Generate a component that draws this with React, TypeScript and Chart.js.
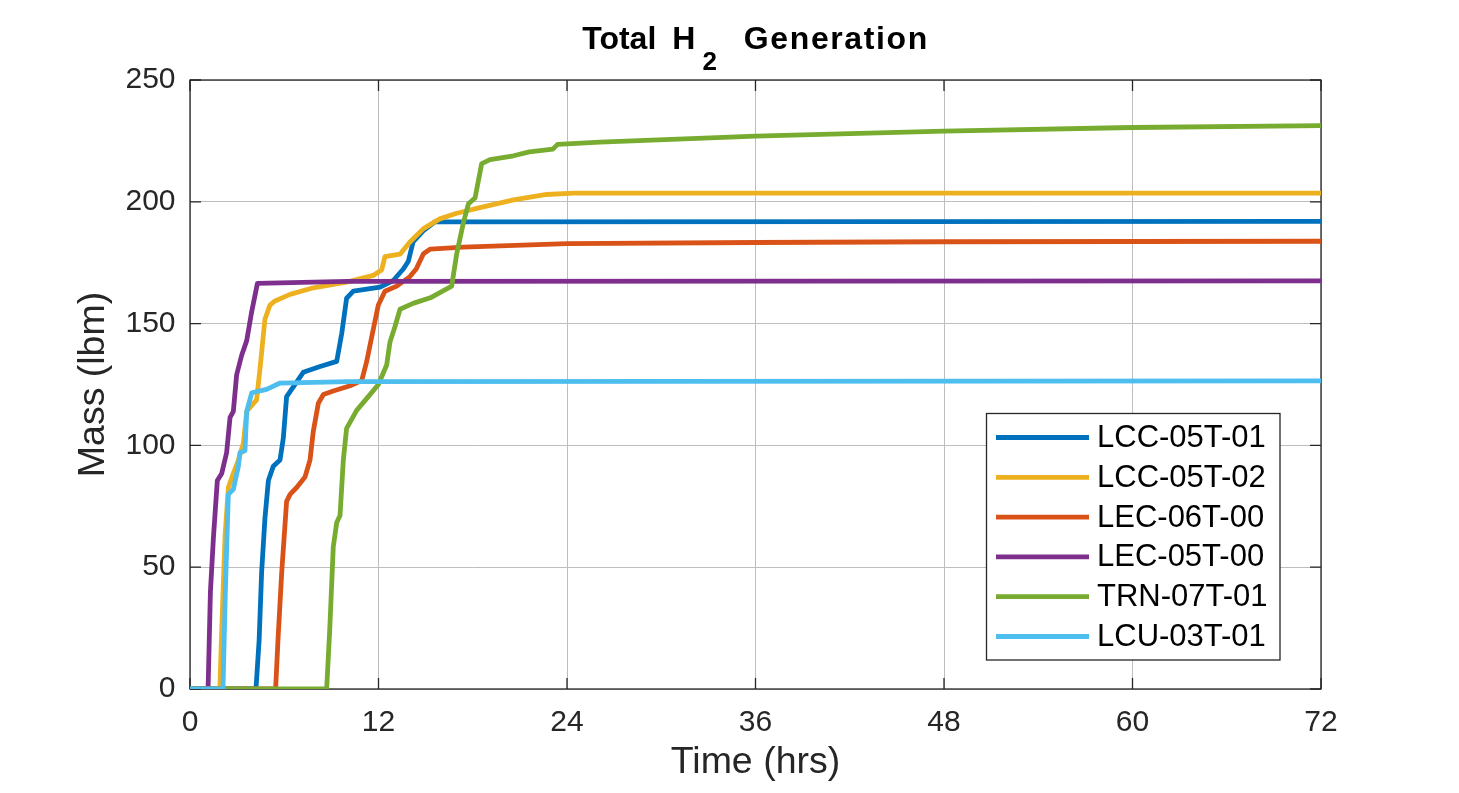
import React, { useEffect, useRef } from "react";
import { Chart, registerables } from "chart.js";

Chart.register(...registerables);

// ---------- Data ----------
const seriesLabels = ["LCC-05T-01", "LCC-05T-02", "LEC-06T-00", "LEC-05T-00", "TRN-07T-01", "LCU-03T-01"];
const seriesColors = ["#0072BD", "#EDB120", "#D95319", "#7E2F8E", "#77AC30", "#4DBEEE"];

const xTickValues = [0, 12, 24, 36, 48, 60, 72];
const yTickValues = [0, 50, 100, 150, 200, 250];

const lcc05t01Time = [0, 4.2, 4.4, 4.56, 4.77, 4.99, 5.3, 5.73, 5.94, 6.15, 6.47, 7.21, 8.28, 9.34, 9.66, 9.97, 10.4, 12.1, 12.94, 13.58, 13.9, 14.2, 14.86, 15.6, 72];
const lcc05t01Mass = [0, 0, 20, 48, 70, 85.6, 91.4, 94, 103, 120, 123, 130, 132.4, 134.5, 146, 160.4, 163.3, 165, 167.7, 172.4, 175.6, 183.5, 188.2, 191.8, 192];

const lcc05t02Time = [0, 1.9, 2.05, 2.23, 2.44, 2.76, 3.08, 3.4, 3.61, 4.24, 4.46, 4.77, 5.09, 5.41, 6.37, 7.85, 9.97, 11.67, 12.2, 12.41, 13.37, 14.0, 14.86, 15.9, 16.98, 18.46, 20.6, 22.7, 24.4, 72];
const lcc05t02Mass = [0, 0, 30, 62.6, 82.7, 88.5, 94, 101, 114, 118.7, 131.7, 151.8, 157.6, 159.3, 162, 164.7, 167, 169.8, 172, 177.5, 178.5, 183.5, 189, 193, 195.3, 197.6, 200.8, 203, 203.6, 203.6];

const lec06t00Time = [0, 5.45, 5.6, 5.84, 6.15, 6.37, 6.79, 7.32, 7.64, 7.85, 8.17, 8.49, 9.12, 10.19, 10.93, 11.25, 11.57, 11.99, 12.41, 13.16, 14.0, 14.4, 14.86, 15.3, 17.4, 24, 36, 48, 72];
const lec06t00Mass = [0, 0, 20, 48, 77, 79.9, 82.7, 87, 94, 105.8, 117.3, 120.9, 122.3, 124.5, 126.6, 134.5, 144.6, 157.6, 163.3, 165.4, 169.3, 172.4, 178.7, 180.6, 181.4, 182.8, 183.3, 183.6, 183.8];

const lec05t00Time = [0, 1.15, 1.3, 1.49, 1.74, 2.02, 2.33, 2.55, 2.76, 2.97, 3.29, 3.61, 3.93, 4.29, 10, 72];
const lec05t00Mass = [0, 0, 40, 62, 85.6, 88.5, 97, 111.5, 114, 129, 137, 143, 155, 166.5, 167.3, 167.5];

const trn07t01Time = [0, 8.7, 8.9, 9.12, 9.34, 9.55, 9.76, 9.97, 10.61, 11.35, 11.99, 12.52, 12.73, 13.05, 13.37, 14.2, 15.3, 16.66, 16.98, 17.4, 17.73, 18.15, 18.57, 19.1, 20.6, 21.6, 23.1, 23.4, 26.1, 36, 48, 60, 72];
const trn07t01Mass = [0, 0, 25, 58.3, 68.3, 71.2, 94, 107, 114.4, 120, 125, 133, 142.4, 148.8, 155.9, 158.3, 160.6, 165.4, 178.7, 191.3, 199.2, 201.6, 215.7, 217.3, 218.9, 220.5, 221.6, 223.6, 224.5, 227, 229, 230.5, 231.3];

const lcu03t01Time = [0, 2.1, 2.25, 2.44, 2.76, 3.08, 3.18, 3.5, 3.61, 3.93, 4.88, 5.73, 10, 72];
const lcu03t01Mass = [0, 0, 40, 79.9, 82, 91.4, 97, 97.8, 114, 121.6, 123, 125.6, 126.2, 126.5];

const seriesTimes = [lcc05t01Time, lcc05t02Time, lec06t00Time, lec05t00Time, trn07t01Time, lcu03t01Time];
const seriesMasses = [lcc05t01Mass, lcc05t02Mass, lec06t00Mass, lec05t00Mass, trn07t01Mass, lcu03t01Mass];

const titleFirst = "Total";
const titleH = "H";
const titleSub = "2";
const titleEnd = "Generation";
const xAxisTitle = "Time (hrs)";
const yAxisTitle = "Mass (lbm)";

// ---------- Styling ----------
const FONT = '"Liberation Sans", Arial, Helvetica, sans-serif';
const AXIS_COLOR = "#262626";
const GRID_COLOR = "#bdbdbd";
const W = 1459;
const H = 793;

const axesBoxPlugin = {
  id: "matlabAxesBox",
  beforeDatasetsDraw(chart: any) {
    const { ctx, chartArea, scales } = chart;
    const { left, right, top, bottom } = chartArea;
    const tickLen = 11;
    ctx.save();
    ctx.strokeStyle = AXIS_COLOR;
    ctx.lineWidth = 1.3;
    ctx.strokeRect(left, top, right - left, bottom - top);
    ctx.beginPath();
    for (const v of xTickValues) {
      const px = scales.x.getPixelForValue(v);
      ctx.moveTo(px, bottom);
      ctx.lineTo(px, bottom - tickLen);
      ctx.moveTo(px, top);
      ctx.lineTo(px, top + tickLen);
    }
    for (const v of yTickValues) {
      const py = scales.y.getPixelForValue(v);
      ctx.moveTo(left, py);
      ctx.lineTo(left + tickLen, py);
      ctx.moveTo(right, py);
      ctx.lineTo(right - tickLen, py);
    }
    ctx.stroke();
    ctx.restore();
  },
};

const titlePlugin = {
  id: "subscriptTitle",
  afterDraw(chart: any) {
    const { ctx, chartArea } = chart;
    ctx.save();
    ctx.fillStyle = "#000000";
    ctx.textBaseline = "alphabetic";
    ctx.textAlign = "left";
    const mainFont = `bold 32px ${FONT}`;
    const subFont = `bold 26px ${FONT}`;
    const genSpacing = 1.6;
    ctx.font = mainFont;
    const wTotal = ctx.measureText(titleFirst).width;
    const wH = ctx.measureText(titleH).width;
    const wGen = ctx.measureText(titleEnd).width + genSpacing * titleEnd.length;
    ctx.font = subFont;
    const wSub = ctx.measureText(titleSub).width;
    const gap1 = 16;
    const gap2 = 7;
    const gap3 = 27;
    const total = wTotal + gap1 + wH + gap2 + wSub + gap3 + wGen;
    const cx = (chartArea.left + chartArea.right) / 2;
    let x = cx - total / 2;
    const baseY = 48.5;
    ctx.font = mainFont;
    ctx.fillText(titleFirst, x, baseY);
    x += wTotal + gap1;
    ctx.fillText(titleH, x, baseY);
    x += wH + gap2;
    ctx.font = subFont;
    ctx.fillText(titleSub, x, baseY + 21);
    x += wSub + gap3;
    ctx.font = mainFont;
    try {
      (ctx as any).letterSpacing = `${genSpacing}px`;
    } catch (e) {}
    ctx.fillText(titleEnd, x, baseY);
    ctx.restore();
  },
};

const legendPlugin = {
  id: "insideLegend",
  afterDraw(chart: any) {
    const { ctx, chartArea } = chart;
    const boxW = 293.5;
    const boxH = 246.5;
    const boxRight = chartArea.right - 41;
    const boxBottom = chartArea.bottom - 29;
    const bx = boxRight - boxW;
    const by = boxBottom - boxH;
    ctx.save();
    ctx.fillStyle = "#ffffff";
    ctx.fillRect(bx, by, boxW, boxH);
    ctx.strokeStyle = AXIS_COLOR;
    ctx.lineWidth = 1.3;
    ctx.strokeRect(bx, by, boxW, boxH);
    const rowH = 39.8;
    const firstY = by + 24;
    ctx.font = `31px ${FONT}`;
    ctx.textBaseline = "middle";
    ctx.textAlign = "left";
    chart.data.datasets.forEach((ds: any, i: number) => {
      const y = firstY + i * rowH;
      ctx.strokeStyle = ds.borderColor;
      ctx.lineWidth = 4.8;
      ctx.beginPath();
      ctx.moveTo(bx + 9.5, y);
      ctx.lineTo(bx + 102.5, y);
      ctx.stroke();
      ctx.fillStyle = "#000000";
      ctx.fillText(ds.label, bx + 110.5, y + 1);
    });
    ctx.restore();
  },
};

export default function App() {
  const canvasRef = useRef<HTMLCanvasElement | null>(null);

  useEffect(() => {
    const canvas = canvasRef.current;
    if (!canvas) return;
    const n = seriesLabels.length;
    const datasets = seriesLabels.map((label, i) => ({
      label,
      data: seriesTimes[i].map((t, k) => ({ x: t, y: seriesMasses[i][k] })),
      borderColor: seriesColors[i],
      backgroundColor: seriesColors[i],
      borderWidth: 4.8,
      pointRadius: 0,
      tension: 0,
      fill: false,
      borderJoinStyle: "round" as const,
      order: n - 1 - i,
    }));

    const chart = new Chart(canvas, {
      type: "line",
      data: { datasets },
      plugins: [axesBoxPlugin, legendPlugin, titlePlugin],
      options: {
        animation: false,
        responsive: false,
        devicePixelRatio: 1,
        parsing: false as any,
        layout: { padding: { left: 0, right: 138, top: 80, bottom: 0 } },
        plugins: {
          legend: { display: false },
          title: { display: false },
          tooltip: { enabled: false },
        },
        scales: {
          x: {
            type: "linear",
            min: 0,
            max: 72,
            afterBuildTicks: (scale: any) => {
              scale.ticks = xTickValues.map((v) => ({ value: v }));
            },
            afterFit: (scale: any) => {
              scale.height = 104;
            },
            grid: { color: GRID_COLOR, lineWidth: 1, drawTicks: false },
            border: { display: false },
            ticks: {
              color: AXIS_COLOR,
              font: { family: FONT, size: 30, lineHeight: 1.2 },
              padding: 15.5,
              maxRotation: 0,
              autoSkip: false,
            },
            title: {
              display: true,
              text: xAxisTitle,
              color: AXIS_COLOR,
              font: { family: FONT, size: 37.5, lineHeight: 1.2 },
              padding: { top: 0, bottom: 8 },
            },
          },
          y: {
            type: "linear",
            min: 0,
            max: 250,
            afterBuildTicks: (scale: any) => {
              scale.ticks = yTickValues.map((v) => ({ value: v }));
            },
            afterFit: (scale: any) => {
              scale.width = 190;
            },
            grid: { color: GRID_COLOR, lineWidth: 1, drawTicks: false },
            border: { display: false },
            ticks: {
              color: AXIS_COLOR,
              font: { family: FONT, size: 30, lineHeight: 1.2 },
              padding: 14.5,
              autoSkip: false,
            },
            title: {
              display: true,
              text: yAxisTitle,
              color: AXIS_COLOR,
              font: { family: FONT, size: 37.5, lineHeight: 1.2 },
              padding: { top: 71, bottom: 0 },
            },
          },
        },
      },
    });
    return () => chart.destroy();
  }, []);

  return (
    <div style={{ position: "absolute", left: 0, top: 0, width: W, height: H, background: "#ffffff" }}>
      <canvas ref={canvasRef} width={W} height={H} style={{ width: W, height: H, display: "block" }} />
    </div>
  );
}
